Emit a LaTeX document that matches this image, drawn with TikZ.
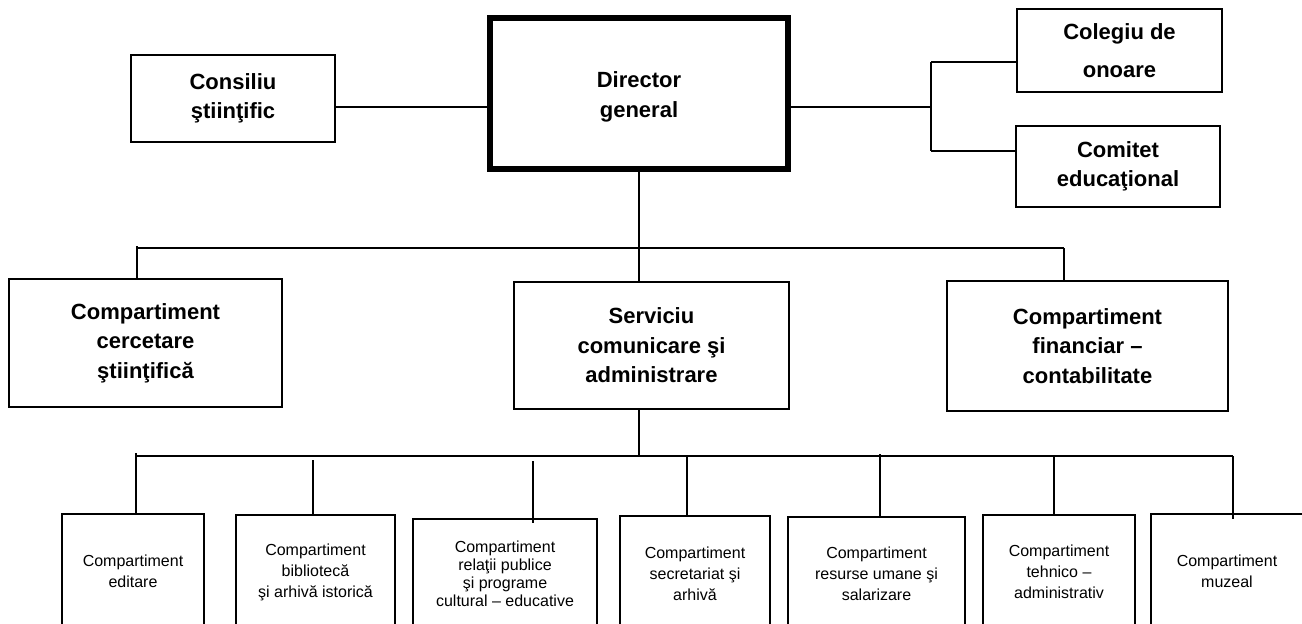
\documentclass[tikz,border=0pt]{standalone}
\usepackage{fontspec}
\setmainfont{Liberation Sans}
\begin{document}
\begin{tikzpicture}[x=1pt,y=-1pt,line width=1.1pt,
  box/.style={draw,line width=1.1pt,inner sep=0pt,align=center,font=\bfseries\fontsize{22}{29.5}\selectfont},
  btext/.style={inner sep=0pt,align=center,font=\bfseries\fontsize{22}{29.5}\selectfont},
  sbox/.style={draw,line width=1.1pt,inner sep=0pt,align=center,font=\fontsize{16}{21}\selectfont},
  conn/.style={line width=1.1pt}]
\useasboundingbox (0,0) rectangle (1302,624);
\clip (0,0) rectangle (1302,624);
% top level
\node[box,minimum width=204,minimum height=87] (cons) at (233,98.5) {Consiliu\\ştiinţific};
\node[draw,line width=5.5pt,inner sep=0pt,minimum width=298,minimum height=151] (dir) at (639,93.5) {};
\node[btext] (dirt) at (639,97) {Director\\general};
\node[box,minimum width=205,minimum height=83,font=\bfseries\fontsize{22}{38}\selectfont] (col) at (1119.5,50.5) {Colegiu de\\onoare};
\node[box,minimum width=204,minimum height=81] (com) at (1118,166.5) {Comitet\\educaţional};
% second level
\node[box,minimum width=273,minimum height=128] (cerc) at (145.5,343) {Compartiment\\cercetare\\ştiinţifică};
\node[box,minimum width=275,minimum height=127] (serv) at (651.5,345.5) {Serviciu\\comunicare şi\\administrare};
\node[box,minimum width=281,minimum height=130] (fin) at (1087.5,346) {Compartiment\\financiar –\\contabilitate};
% third level
\node[sbox,minimum width=142,minimum height=115] (ed) at (133,571.5) {Compartiment\\editare};
\node[sbox,minimum width=159,minimum height=114] (bib) at (315.5,572) {Compartiment\\bibliotecă\\şi arhivă istorică};
\node[sbox,minimum width=184,minimum height=110,font=\fontsize{16}{18}\selectfont] (rel) at (505,574) {Compartiment\\relaţii publice\\şi programe\\cultural – educative};
\node[sbox,minimum width=150,minimum height=116] (sec) at (695,574) {Compartiment\\secretariat şi\\arhivă};
\node[sbox,minimum width=177,minimum height=114] (res) at (876.5,574) {Compartiment\\resurse umane şi\\salarizare};
\node[sbox,minimum width=152,minimum height=114] (teh) at (1059,572) {Compartiment\\tehnico –\\administrativ};
\node[sbox,minimum width=152,minimum height=115] (muz) at (1227,571.5) {Compartiment\\muzeal};
% connectors top
\coordinate (j1) at (931,107);
\coordinate (jc) at (931,62);
\coordinate (jm) at (931,151);
\draw[conn] (cons.east |- j1) -- (dir.west |- j1);
\draw[conn] (dir.east |- j1) -- (j1);
\draw[conn] (jc) -- (jm);
\draw[conn] (jc) -- (col.west |- jc);
\draw[conn] (jm) -- (com.west |- jm);
\draw[conn] (dir.south) -- (dir.south |- serv.north);
% first bus
\coordinate (tl) at (137,248);
\coordinate (tlu) at (137,246);
\coordinate (tr) at (1064,248);
\draw[conn] (tl) -- (tr);
\draw[conn] (tlu) -- (tlu |- cerc.north);
\draw[conn] (tr) -- (tr |- fin.north);
% second bus
\coordinate (bm) at (639,456);
\coordinate (bl) at (136,456);
\coordinate (br) at (1233,456);
\draw[conn] (serv.south -| bm) -- (bm);
\draw[conn] (bl) -- (br);
\coordinate (e1) at (136,453);
\coordinate (b1) at (313,460);
\coordinate (r1) at (533,461);
\coordinate (r2) at (533,523);
\coordinate (s1) at (687,456);
\coordinate (u1) at (880,454);
\coordinate (t1) at (1054,456);
\coordinate (m2) at (1233,519);
\draw[conn] (e1) -- (e1 |- ed.north);
\draw[conn] (b1) -- (b1 |- bib.north);
\draw[conn] (r1) -- (r2);
\draw[conn] (s1) -- (s1 |- sec.north);
\draw[conn] (u1) -- (u1 |- res.north);
\draw[conn] (t1) -- (t1 |- teh.north);
\draw[conn] (br) -- (m2);
\end{tikzpicture}
\end{document}
